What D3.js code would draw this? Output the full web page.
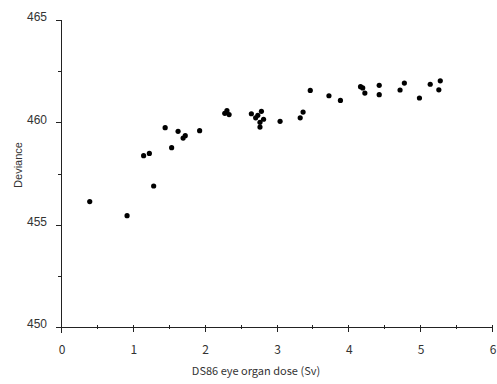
<!DOCTYPE html>
<html>
<head>
<meta charset="utf-8">
<script src="https://cdn.jsdelivr.net/npm/d3@7"></script>
<style>
  body { margin: 0; background: #fff; }
  svg { display: block; }
</style>
</head>
<body>
<svg width="497" height="384"></svg>
<script>
// dose (Sv) vs deviance
const doseValues = [0.40, 0.92, 1.15, 1.23, 1.29, 1.45, 1.54, 1.63, 1.70, 1.73, 1.93,
    2.28, 2.31, 2.34, 2.65, 2.71, 2.74, 2.79, 2.77, 2.82, 2.77, 3.05,
    3.33, 3.37, 3.47, 3.73, 3.89, 4.17, 4.20, 4.23, 4.43, 4.43,
    4.72, 4.78, 4.99, 5.14, 5.26, 5.28];
const devianceValues = [456.13, 455.44, 458.37, 458.48, 456.89, 459.74, 458.76, 459.56, 459.23, 459.35, 459.59,
    460.44, 460.57, 460.38, 460.42, 460.22, 460.34, 460.54, 460.00, 460.15, 459.77, 460.05,
    460.22, 460.50, 461.56, 461.30, 461.07, 461.74, 461.68, 461.43, 461.81, 461.35,
    461.58, 461.92, 461.19, 461.86, 461.59, 462.03];

const xTicks = [0, 1, 2, 3, 4, 5, 6];
const xMinorTicks = [0.5, 1.5, 2.5, 3.5, 4.5, 5.5];
const yTicks = [450, 455, 460, 465];
const yMinorTicks = [452.5, 457.5, 462.5];

const svg = d3.select("svg");

const x = d3.scaleLinear().domain([0, 6]).range([61, 492]);
const y = d3.scaleLinear().domain([450, 465]).range([327, 20]);

// axis lines
const axes = svg.append("g").attr("stroke", "#222").attr("stroke-width", 1).attr("fill", "none");
axes.append("line")
    .attr("x1", x(0) + 0.5).attr("x2", x(0) + 0.5)
    .attr("y1", y(465)).attr("y2", y(450) + 6);
axes.append("line")
    .attr("x1", x(0) - 5).attr("x2", x(6) + 0.5)
    .attr("y1", y(450) + 0.5).attr("y2", y(450) + 0.5);

// y ticks
axes.selectAll(".ymaj").data(yTicks).enter().append("line")
    .attr("x1", x(0) - 5).attr("x2", x(0))
    .attr("y1", d => Math.round(y(d)) + 0.5).attr("y2", d => Math.round(y(d)) + 0.5);
axes.selectAll(".ymin").data(yMinorTicks).enter().append("line")
    .attr("x1", x(0) - 3).attr("x2", x(0))
    .attr("y1", d => Math.round(y(d)) + 0.5).attr("y2", d => Math.round(y(d)) + 0.5);

// x ticks
axes.selectAll(".xmaj").data(xTicks.slice(1)).enter().append("line")
    .attr("x1", d => Math.round(x(d)) + 0.5).attr("x2", d => Math.round(x(d)) + 0.5)
    .attr("y1", y(450) - 2).attr("y2", y(450) + 5);
axes.selectAll(".xmin").data(xMinorTicks).enter().append("line")
    .attr("x1", d => Math.round(x(d)) + 0.5).attr("x2", d => Math.round(x(d)) + 0.5)
    .attr("y1", y(450) - 2).attr("y2", y(450) + 2);

// tick labels
svg.append("g")
    .style("font", "12px 'Liberation Sans Narrow', 'Liberation Sans', sans-serif")
    .attr("fill", "#333")
    .selectAll("text")
    .data(yTicks).enter().append("text")
    .attr("x", 47)
    .attr("y", d => y(d))
    .attr("dy", "0.1em")
    .attr("text-anchor", "end")
    .text(d => d);

svg.append("g")
    .style("font", "12px 'Noto Sans CJK JP', sans-serif")
    .attr("fill", "#333")
    .selectAll("text")
    .data(xTicks).enter().append("text")
    .attr("x", d => x(d) + 1)
    .attr("y", 350)
    .attr("dy", "0.35em")
    .attr("text-anchor", "middle")
    .text(d => d);

// axis titles
svg.append("text")
    .attr("x", 256).attr("y", 371).attr("dy", "0.35em")
    .attr("text-anchor", "middle")
    .style("font", "11px 'Noto Sans CJK JP', sans-serif")
    .attr("fill", "#333")
    .text("DS86 eye organ dose (Sv)");

svg.append("text")
    .attr("transform", "translate(18,165) rotate(-90)")
    .attr("dy", "0.35em")
    .attr("text-anchor", "middle")
    .style("font", "11px 'Liberation Sans', sans-serif")
    .attr("fill", "#333")
    .text("Deviance");

// points
svg.append("g")
    .selectAll("circle")
    .data(doseValues.map((d, i) => [d, devianceValues[i]]))
    .enter().append("circle")
    .attr("cx", d => x(d[0]))
    .attr("cy", d => y(d[1]))
    .attr("r", 2.6)
    .attr("fill", "#000");
</script>
</body>
</html>
